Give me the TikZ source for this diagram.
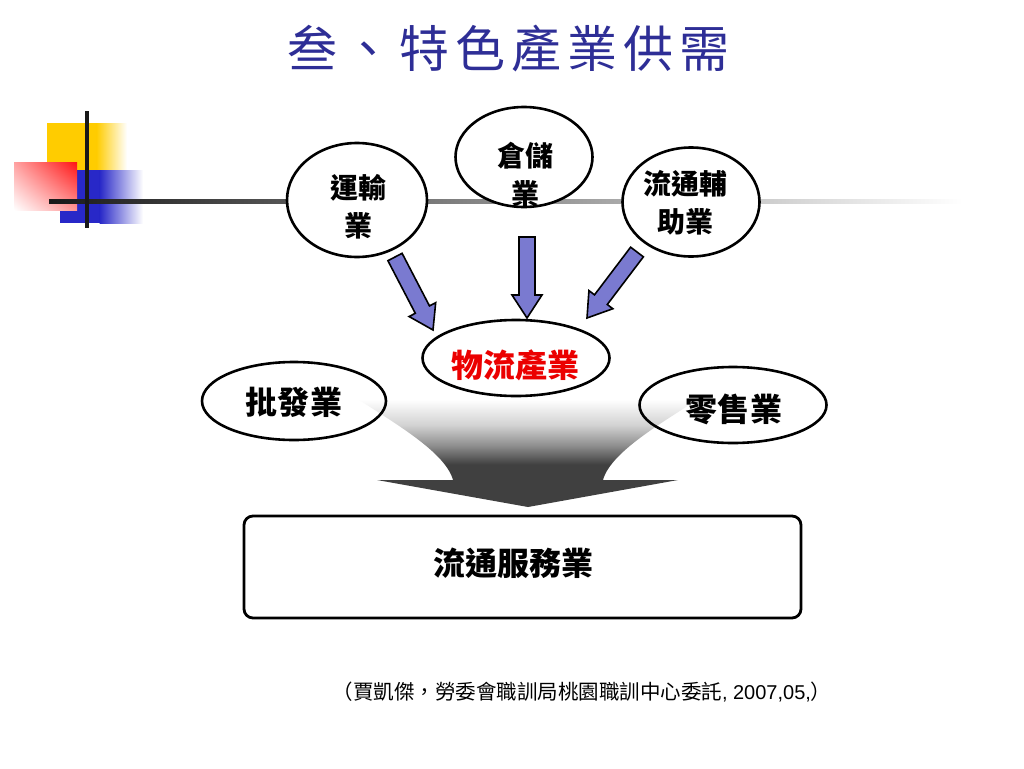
\documentclass[tikz,border=0pt]{standalone}
\usepackage{fontspec}
\newfontfamily\cjk{Noto Sans CJK TC}
\newfontfamily\arialfont{Liberation Sans}
\usetikzlibrary{calc,shapes.geometric,shadings}
\definecolor{titleblue}{RGB}{46,46,150}
\definecolor{arrowfill}{RGB}{122,122,208}
\definecolor{ydeco}{RGB}{255,204,0}
\definecolor{bdeco}{RGB}{40,40,200}
\definecolor{rdeco}{RGB}{255,20,20}
\definecolor{fdark}{RGB}{64,64,64}
\definecolor{fmid}{RGB}{144,144,144}
\definecolor{flight}{RGB}{210,210,210}
\definecolor{wured}{RGB}{235,0,0}
\pgfdeclareverticalshading{funnelshade}{100bp}{color(0bp)=(fdark); color(44bp)=(fdark); color(52.7bp)=(fmid); color(61.6bp)=(flight); color(73bp)=(white); color(100bp)=(white)}
\newcommand\titlegap{\hspace{6pt}}
\newcommand\blockarrow[3]{%
  \coordinate (#1hb) at ($(#3)!23pt!(#2)$);
  \draw[barrow] ($(#2)!8pt!90:(#3)$) -- ($(#1hb)!8pt!90:(#3)$) -- ($(#1hb)!15pt!90:(#3)$) -- (#3)
     -- ($(#1hb)!15pt!-90:(#3)$) -- ($(#1hb)!8pt!-90:(#3)$) -- ($(#2)!8pt!-90:(#3)$) -- cycle;
}
\tikzset{
  circ/.style={ellipse, draw=black, line width=2.6pt, fill=white, inner sep=0pt},
  oval/.style={ellipse, draw=black, line width=2.6pt, inner sep=0pt},
  ctext/.style={inner sep=0pt, align=center, font=\cjk\bfseries\fontsize{28}{38}\selectfont},
  otext/.style={inner sep=0pt, font=\cjk\bfseries\fontsize{32}{36}\selectfont},
  barrow/.style={fill=arrowfill, draw=black, line width=1.6pt, line join=miter},
  mainbox/.style={rectangle, rounded corners=9pt, draw=black, line width=2.8pt, fill=white,
    minimum width=557pt, minimum height=102pt},
}
\begin{document}
\begin{tikzpicture}[x=1pt,y=-1pt]
\useasboundingbox (0,0) rectangle (1024,768);
\fill[white] (0,0) rectangle (1024,768);

% decoration
\fill[ydeco] (47,123) rectangle (97,172);
\shade[left color=ydeco, right color=white] (96.5,123) rectangle (127,172);
\fill[bdeco] (60,170) rectangle (100,223);
\shade[left color=bdeco, right color=white] (99.5,170) rectangle (143,223);
\shade[upper left=rdeco!40!white, upper right=rdeco, lower left=white, lower right=rdeco!45!white] (14,162) rectangle (77,210);
\shade[left color=black!90, right color=white] (49,199) rectangle (962,203);
\draw[line width=4pt, black!90] (87,111) -- (87,228);

% title
\node[font=\cjk\fontsize{50}{56}\selectfont, text=titleblue] (title) at (508,49)
  {叁\titlegap 、\titlegap 特\titlegap 色\titlegap 產\titlegap 業\titlegap 供\titlegap 需};

% funnel arrow
\shade[shading=funnelshade] (352,395) .. controls (385,418) and (445,450) .. (453,480)
  -- (377,480) -- (528,507) -- (678,480) -- (603,480)
  .. controls (611,450) and (671,418) .. (704,395) -- cycle;

% top circles
\node[circ, minimum width=140pt, minimum height=114pt] (yun) at (357,200) {};
\node[ctext] (yunt) at (358,207) {運輸\\業};
\node[circ, minimum width=137pt, minimum height=100pt] (cang) at (524,157) {};
\node[ctext] (cangt) at (525,175) {倉儲\\業};
\node[circ, minimum width=137pt, minimum height=109pt] (liu) at (691,202) {};
\node[ctext] (liut) at (685,203) {流通輔\\助業};

% middle ovals
\node[oval, fill=white, minimum width=187pt, minimum height=76pt] (wu) at (516,358) {};
\node[otext, text=wured] (wut) at (515,365) {物流產業};
\node[oval, minimum width=184pt, minimum height=78pt] (pi) at (294,401) {};
\node[otext] (pit) at (294,402) {批發\hspace{2pt}業};
\node[oval, minimum width=187pt, minimum height=76pt] (ling) at (733,405) {};
\node[otext] (lingt) at (734,409) {零售\hspace{2pt}業};

% block arrows
\coordinate (a1s) at (395,257);
\coordinate (a1e) at (433,330);
\coordinate (a2s) at (527,237);
\coordinate (a2e) at (527,318);
\coordinate (a3s) at (637,252);
\coordinate (a3e) at (587,318);
\blockarrow{a1}{a1s}{a1e}
\blockarrow{a2}{a2s}{a2e}
\blockarrow{a3}{a3s}{a3e}

% bottom box
\node[mainbox] (svc) at (522.5,567) {};
\node[otext] (svct) at (513,563) {流通服務業};

% footer
\node[inner sep=0pt] (src) at (582,692)
  {\cjk\fontsize{20.5}{24}\selectfont （賈凱傑，勞委會職訓局桃園職訓中心委託{\arialfont\fontsize{20}{24}\selectfont , 2007,05,}）};
\end{tikzpicture}
\end{document}
